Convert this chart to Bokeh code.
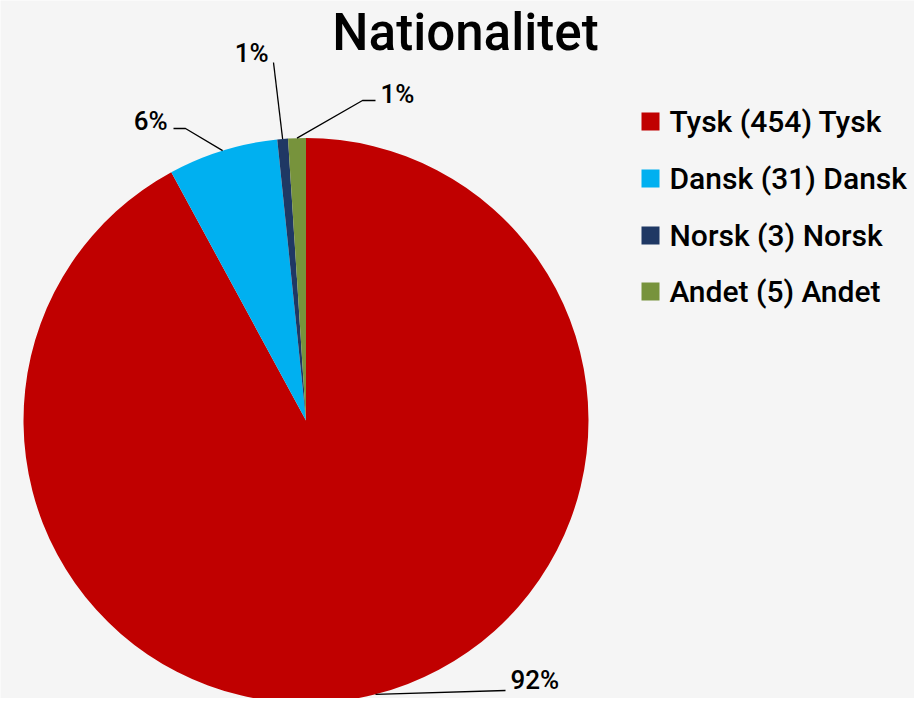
import math
from bokeh.plotting import figure
from bokeh.models import Range1d
from bokeh.core.properties import value
from bokeh.embed import file_html
from bokeh.resources import INLINE

# ---- data ----
title = "Nationalitet"
categories = ["Tysk", "Dansk", "Norsk", "Andet"]
counts = [454, 31, 3, 5]
colors = ["#C00000", "#00B0F0", "#1F3864", "#77933C"]

# ---- layout ----
W, H = 914, 698
BG = "#F5F5F5"
FONT = "'Roboto Medium', Roboto"

def px(X):
    return X

def py(Y):
    return H - Y

cx, cy, R = px(305.5), py(420), 282.5

p = figure(width=W, height=H, output_backend="svg", toolbar_location=None,
           x_range=Range1d(0, W), y_range=Range1d(0, H), min_border=0)
p.axis.visible = False
p.grid.visible = False
p.outline_line_color = None
p.background_fill_color = BG
p.border_fill_color = BG

total = sum(counts)
starts, ends, mids = [], [], []
cum = 0
for v in counts:
    a0 = math.pi / 2 - 2 * math.pi * cum / total
    cum += v
    a1 = math.pi / 2 - 2 * math.pi * cum / total
    starts.append(a0)
    ends.append(a1)
    mids.append((a0 + a1) / 2)

p.wedge(x=cx, y=cy, radius=R, start_angle=starts, end_angle=ends,
        direction="clock", fill_color=colors, line_color=None)

# data labels (percent), positions are layout (text vertical middle)
pct = [f"{round(100 * v / total)}%" for v in counts]
label_pos = [(510, 679, "left"), (167, 120, "right"), (268, 52, "right"), (380, 93, "left")]
elbows = [[(505, 690)], [(173, 128), (185, 128)], [(273, 62)], [(375, 100), (362, 100)]]

xs, ys = [], []
for i in range(len(counts)):
    ax = cx + R * math.cos(mids[i])
    ay = cy + R * math.sin(mids[i])
    pts = [(px(X), py(Y)) for X, Y in elbows[i]] + [(ax, ay)]
    xs.append([q[0] for q in pts])
    ys.append([q[1] for q in pts])
p.multi_line(xs=xs, ys=ys, line_color="black", line_width=1.3)

p.text(x=[px(l[0]) for l in label_pos], y=[py(l[1]) for l in label_pos], text=pct,
       text_align=[l[2] for l in label_pos], text_baseline="middle",
       text_font=value(FONT), text_font_size="26px", text_color="black")

# title
p.text(x=[px(465)], y=[py(32)], text=[title], text_align="center",
       text_baseline="middle", text_font=value(FONT), text_font_size="51px",
       text_color="black")

# legend
leg_rows = [121, 178, 235, 291]
leg_labels = [f"{c} ({v}) {c}" for c, v in zip(categories, counts)]
p.scatter(x=[px(650)] * 4, y=[py(r) for r in leg_rows], marker="square", size=18,
          fill_color=colors, line_color=None)
p.text(x=[px(669)] * 4, y=[py(r) for r in leg_rows], text=leg_labels,
       text_align="left", text_baseline="middle", text_font=value(FONT),
       text_font_size="30px", text_color="black")

open("out.html", "w").write(file_html(p, INLINE))
